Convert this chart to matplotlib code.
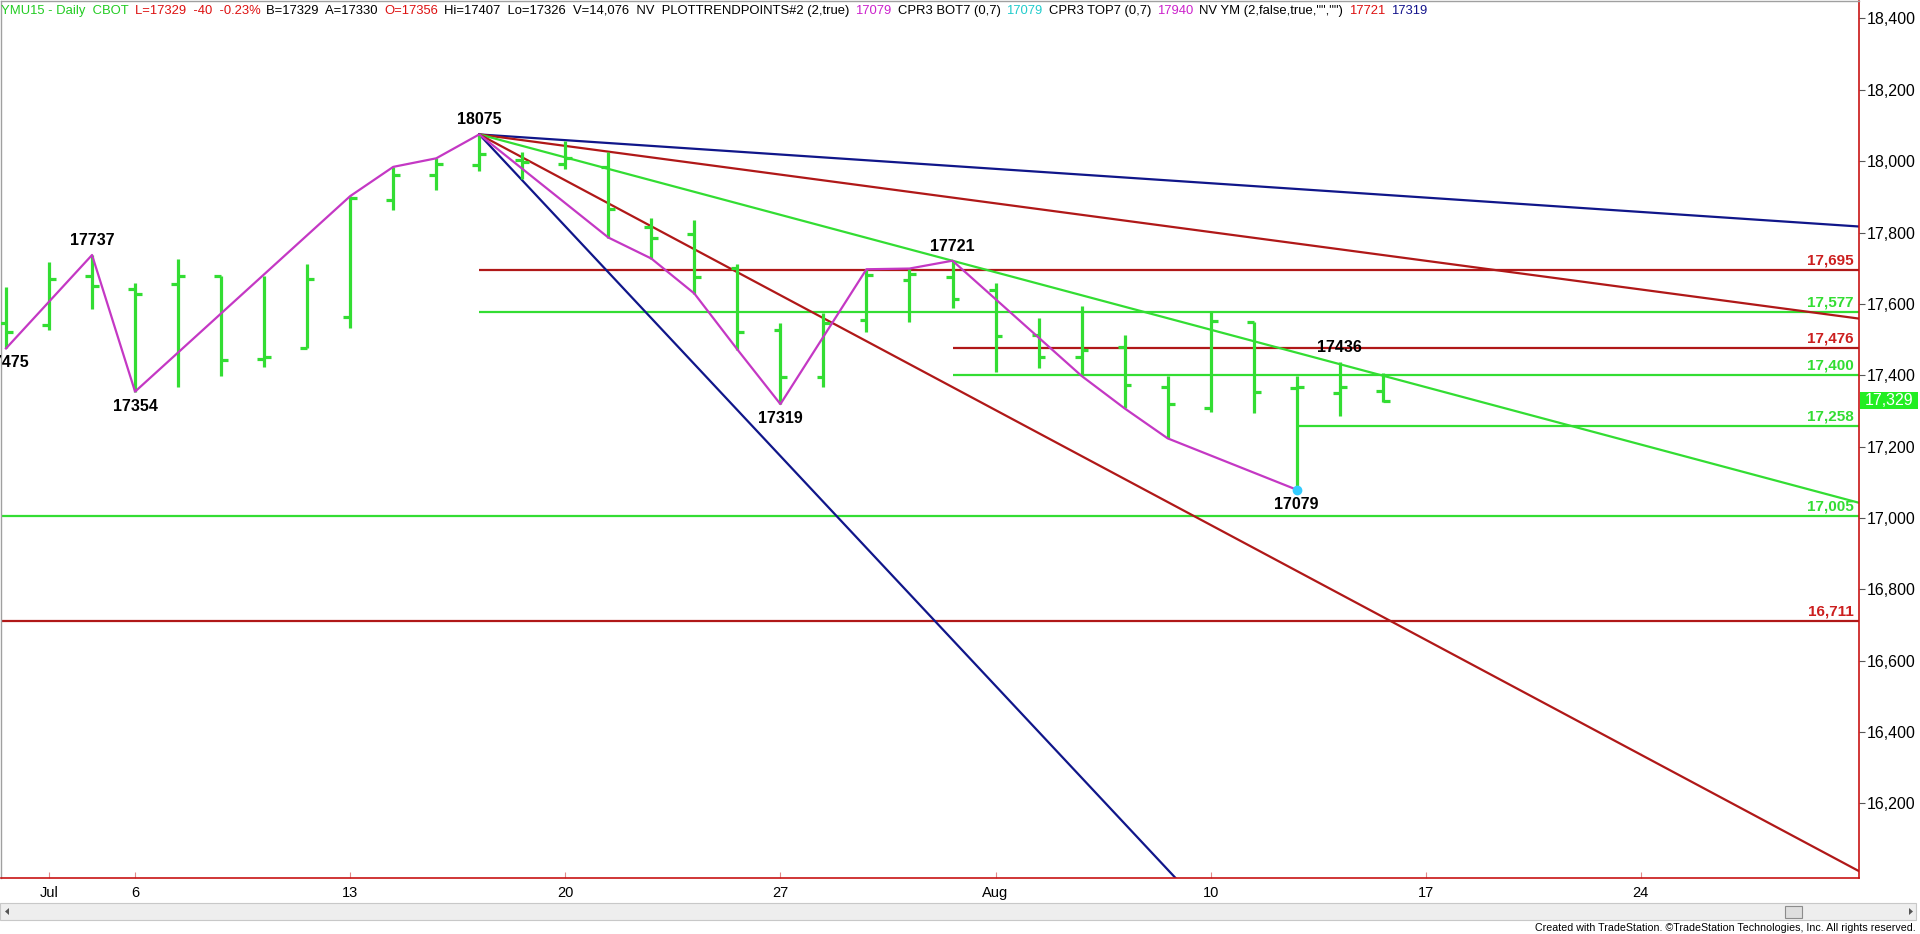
import matplotlib
matplotlib.use("Agg")
import matplotlib.pyplot as plt
from matplotlib.patches import Rectangle, Polygon
from matplotlib.ticker import FuncFormatter

plt.rcParams['font.family'] = ['Liberation Sans', 'DejaVu Sans']

###  Daily bars (index 0 = Jun 30 2015, trading days)
opens  = [17545, 17541, 17679, 17641, 17657, 17679, 17446, 17477, 17562, 17891, 17960,
          17989, 18003, 17992, 17983, 17816, 17797, 17700, 17527, 17394, 17555, 17667,
          17674, 17640, 17513, 17450, 17478, 17368, 17307, 17550, 17365, 17349, 17356]
highs  = [17646, 17716, 17737, 17659, 17727, 17679, 17679, 17713, 17902, 17984, 18008,
          18075, 18026, 18057, 18026, 17840, 17835, 17713, 17545, 17575, 17697, 17699,
          17721, 17659, 17559, 17595, 17514, 17398, 17578, 17550, 17398, 17436, 17407]
lows   = [17475, 17528, 17585, 17354, 17366, 17399, 17422, 17477, 17531, 17863, 17919,
          17973, 17950, 17977, 17786, 17727, 17629, 17472, 17319, 17366, 17520, 17550,
          17587, 17410, 17419, 17398, 17307, 17223, 17296, 17293, 17079, 17286, 17326]
closes = [17522, 17669, 17650, 17627, 17679, 17442, 17450, 17669, 17898, 17960, 17992,
          18020, 17998, 18008, 17866, 17784, 17674, 17521, 17394, 17545, 17681, 17685,
          17613, 17510, 17452, 17472, 17372, 17318, 17552, 17352, 17368, 17366, 17329]

###  PLOTTRENDPOINTS line
trend_i = [0, 2, 3, 8, 9, 10, 11, 14, 15, 16, 17, 18, 20, 21, 22, 25, 26, 27, 30]
trend_p = [17475, 17737, 17354, 17902, 17984, 18008, 18075, 17786, 17727, 17629, 17472,
           17319, 17697, 17699, 17721, 17398, 17307, 17223, 17079]

###  swing labels
swing_i = [0, 2, 3, 11, 18, 22, 30, 31]
swing_p = [17475, 17737, 17354, 18075, 17319, 17721, 17079, 17436]
swing_up = [False, True, False, True, False, True, False, True]

###  fan from the 18075 top (points per bar)
fan_start = (11, 18075)
fan_slopes = [-8.05, -16.1, -32.2, -64.4, -128.8]
fan_colors = ['#10168a', '#b01818', '#33dd33', '#b01818', '#10168a']

###  horizontal levels
levels = [17695, 17577, 17476, 17400, 17258, 17005, 16711]
level_from = [11, 11, 22, 22, 30, -1, -1]
level_colors = ['#b01818', '#33dd33', '#b01818', '#33dd33', '#33dd33', '#33dd33', '#b01818']
level_text_colors = ['#cc1f1f', '#33dd33', '#cc1f1f', '#33dd33', '#33dd33', '#33dd33', '#cc1f1f']

date_ticks = [1, 3, 8, 13, 18, 23, 28, 33, 38]
date_labels = ['Jul', '6', '13', '20', '27', 'Aug', '10', '17', '24']

last_price = 17329

header = [("YMU15 - Daily  CBOT", '#22cc22'),
          ("L=17329  -40  -0.23%", '#dd1111'),
          ("B=17329  A=17330", 'black'),
          ("O=17356", '#dd1111'),
          ("Hi=17407  Lo=17326  V=14,076  NV  PLOTTRENDPOINTS#2 (2,true)", 'black'),
          ("17079", '#cc22cc'),
          ("CPR3 BOT7 (0,7)", 'black'),
          ("17079", '#22cccc'),
          ("CPR3 TOP7 (0,7)", 'black'),
          ("17940", '#cc22cc'),
          ('NV YM (2,false,true,"","")', 'black'),
          ("17721", '#dd1111'),
          ("17319", '#14148c')]

GREEN = '#33dd33'
W, H = 1920, 934
fig = plt.figure(figsize=(W / 100, H / 100), dpi=100)
ax = fig.add_axes([1 / W, 1 - 878 / H, 1858 / W, 877 / H])
ax.set_xlim(-0.116, 43.07)
ax.set_ylim(15990.5, 18449)

x = list(range(len(opens)))
ax.vlines(x, lows, highs, color=GREEN, lw=2.3, zorder=3)
ax.hlines(opens, [i - 0.16 for i in x], x, color=GREEN, lw=2.3, zorder=3)
ax.hlines(closes, x, [i + 0.16 for i in x], color=GREEN, lw=2.3, zorder=3)

# levels
xmax = 43.07
for lv, st, c, tc in zip(levels, level_from, level_colors, level_text_colors):
    ax.hlines(lv, st if st >= 0 else -1, xmax + 1, color=c, lw=1.6, zorder=2)
    ax.annotate(f"{lv:,}", xy=(1, lv), xycoords=ax.get_yaxis_transform(),
                xytext=(-4, 2), textcoords='offset points', ha='right', va='bottom',
                color=tc, fontsize=11, fontweight='bold', zorder=5)

# fan lines
for s, c in zip(fan_slopes, fan_colors):
    x1 = xmax + 1
    ax.plot([fan_start[0], x1], [fan_start[1], fan_start[1] + s * (x1 - fan_start[0])],
            color=c, lw=1.6, zorder=2)

ax.plot(trend_i, trend_p, color='#c438c4', lw=1.6, zorder=4)
ax.plot(trend_i[-1], trend_p[-1], 'o', color='#33ccff', ms=6, zorder=5)

for i, p, up in zip(swing_i, swing_p, swing_up):
    t = ax.annotate(str(p), xy=(i, p), xytext=(0, 5 if up else -5), textcoords='offset points',
                    ha='center', va='bottom' if up else 'top', fontsize=11.5,
                    fontweight='bold', color='black', zorder=6)
    t.set_clip_on(True)

# axes styling
for side in ['right', 'bottom']:
    ax.spines[side].set_color('#c81414')
    ax.spines[side].set_linewidth(1.2)
for side in ['top', 'left']:
    ax.spines[side].set_color('#a0a0a0')
    ax.spines[side].set_linewidth(1)

ax.yaxis.tick_right()
ax.set_yticks(range(16200, 18401, 200))
ax.yaxis.set_major_formatter(FuncFormatter(lambda v, _: f"{int(v):,}"))
ax.tick_params(axis='y', direction='out', length=4, color='#555555', labelsize=11.5, pad=1.5)
ax.set_xticks(date_ticks)
ax.set_xticklabels(date_labels)
ax.tick_params(axis='x', direction='in', length=4, color='#e08a8a', labelsize=10.5, pad=6)

# last price tag
ax.add_patch(Rectangle((1.0004, last_price - 24), 0.0313, 48, transform=ax.get_yaxis_transform(),
                       facecolor='#22ee22', edgecolor='none', clip_on=False, zorder=6))
ax.text(1.0162, last_price, f"{last_price:,}", transform=ax.get_yaxis_transform(),
        ha='center', va='center', color='white', fontsize=11.5, clip_on=False, zorder=7)

# header
prev = fig.text(1 / W, 1 - 14 / H, header[0][0], color=header[0][1], fontsize=9.4,
                ha='left', va='baseline')
for s, c in header[1:]:
    prev = ax.annotate(s, xy=(1, 0), xycoords=prev, xytext=(6, 0), textcoords='offset pixels',
                       color=c, fontsize=9.4, ha='left', va='bottom', annotation_clip=False)

# scrollbar + footer
fig.add_artist(Rectangle((0, 1 - 920 / H), 1916 / W, 17 / H, transform=fig.transFigure,
                         facecolor='#eeeeee', edgecolor='#c8c8c8', lw=0.8))
fig.add_artist(Rectangle((1785 / W, 1 - 918 / H), 17 / W, 12 / H, transform=fig.transFigure,
                         facecolor='#dedede', edgecolor='#8c8c8c', lw=0.8))
fig.add_artist(Polygon([(5 / W, 1 - 911.5 / H), (9 / W, 1 - 908 / H), (9 / W, 1 - 915 / H)],
                       closed=True, transform=fig.transFigure, facecolor='#555555'))
fig.add_artist(Polygon([(1913 / W, 1 - 911.5 / H), (1909 / W, 1 - 908 / H), (1909 / W, 1 - 915 / H)],
                       closed=True, transform=fig.transFigure, facecolor='#555555'))
fig.text(1916 / W, 1 - 928 / H,
         "Created with TradeStation. \u00a9TradeStation Technologies, Inc. All rights reserved.",
         ha='right', va='center', fontsize=7.7, color='black')

fig.savefig('out.png', dpi=100)
